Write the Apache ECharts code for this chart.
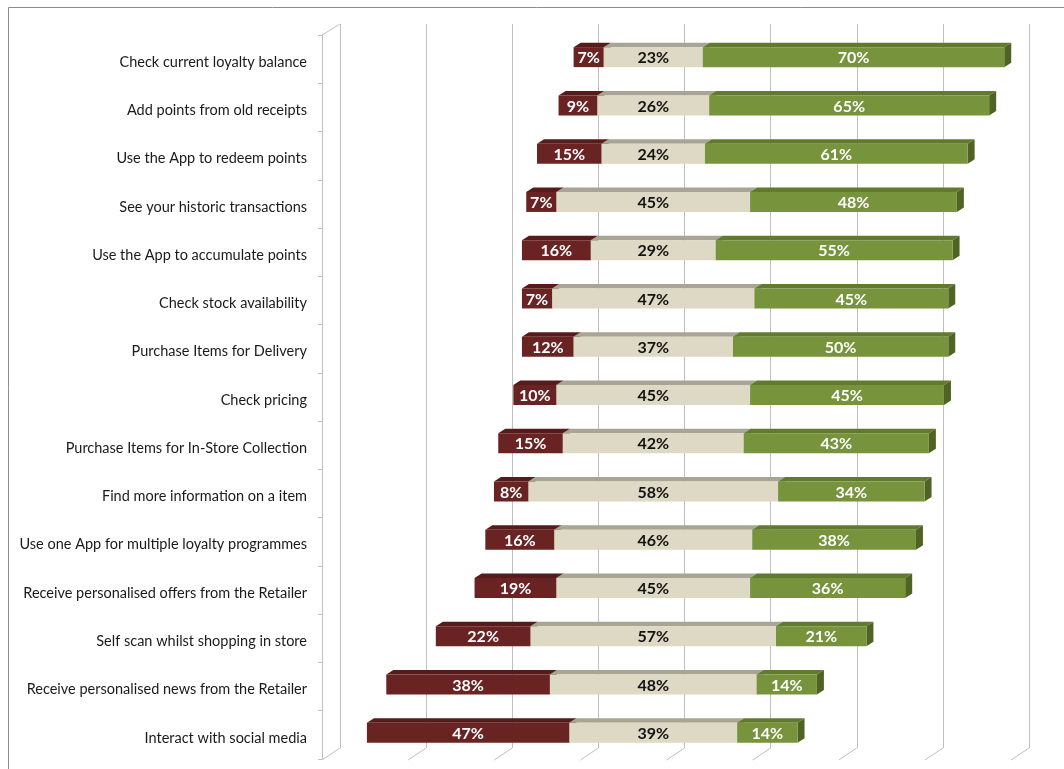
<!DOCTYPE html>
<html>
<head>
<meta charset="utf-8">
<script src="https://cdn.jsdelivr.net/npm/echarts@6/dist/echarts.min.js"></script>
<style>
  html, body { margin: 0; padding: 0; background: #ffffff; }
  #chart { width: 1064px; height: 769px; }
</style>
</head>
<body>
<div id="chart"></div>
<script>
// Survey answers per app feature, in percent
const categories = [
  'Check current loyalty balance',
  'Add points from old receipts',
  'Use the App to redeem points',
  'See your historic transactions',
  'Use the App to accumulate points',
  'Check stock availability',
  'Purchase Items for Delivery',
  'Check pricing',
  'Purchase Items for In-Store Collection',
  'Find more information on a item',
  'Use one App for multiple loyalty programmes',
  'Receive personalised offers from the Retailer',
  'Self scan whilst shopping in store',
  'Receive personalised news from the Retailer',
  'Interact with social media'
];
const negative = [7, 9, 15, 7, 16, 7, 12, 10, 15, 8, 16, 19, 22, 38, 47];
const neutral  = [23, 26, 24, 45, 29, 47, 37, 45, 42, 58, 46, 45, 57, 48, 39];
const positive = [70, 65, 61, 48, 55, 45, 50, 45, 43, 34, 38, 36, 21, 14, 14];
const gridTicks = [0, 20, 40, 60, 80, 100, 120, 140, 160];

// axis value at which every neutral segment is centred
const CENTRE = 76;

// pseudo-3D geometry (pixels)
const FRONT = { dx: -14, dy: 9 };     // bar front relative to the back wall
const DEPTH = { dx: 7, dy: -4.5 };    // bar depth
const FLOOR = { dx: -18, dy: 12 };    // back wall to front edge
const BAR_H = 20;
const LABEL_FONT = 'Lato, "Open Sans", sans-serif';

const starts = {
  neg: categories.map((c, i) => CENTRE - neutral[i] / 2 - negative[i]),
  neu: categories.map((c, i) => CENTRE - neutral[i] / 2),
  pos: categories.map((c, i) => CENTRE + neutral[i] / 2)
};

function segmentSeries(name, startArr, lenArr, colors, textColor) {
  return {
    type: 'custom',
    name: name,
    xAxisIndex: 0,
    yAxisIndex: 0,
    data: categories.map((c, i) => [startArr[i], startArr[i] + lenArr[i], i, lenArr[i]]),
    encode: { x: [0, 1], y: 2 },
    renderItem: function (params, api) {
      const a = api.coord([api.value(0), api.value(2)]);
      const b = api.coord([api.value(1), api.value(2)]);
      const x0 = a[0] + FRONT.dx;
      const x1 = b[0] + FRONT.dx;
      const yc = a[1] + FRONT.dy;
      const t = yc - BAR_H / 2;
      const btm = yc + BAR_H / 2;
      return {
        type: 'group',
        children: [
          {
            type: 'polygon',
            shape: { points: [[x0, t], [x0 + DEPTH.dx, t + DEPTH.dy], [x1 + DEPTH.dx, t + DEPTH.dy], [x1, t]] },
            style: { fill: colors.top }
          },
          {
            type: 'polygon',
            shape: { points: [[x1, t], [x1 + DEPTH.dx, t + DEPTH.dy], [x1 + DEPTH.dx, btm + DEPTH.dy], [x1, btm]] },
            style: { fill: colors.side }
          },
          {
            type: 'rect',
            shape: { x: x0, y: t, width: x1 - x0, height: BAR_H },
            style: { fill: colors.front }
          },
          {
            type: 'text',
            x: (x0 + x1) / 2,
            y: yc + 1,
            style: {
              text: api.value(3) + '%',
              fill: textColor,
              fontFamily: LABEL_FONT,
              fontWeight: 'bold',
              fontSize: 16,
              align: 'center',
              verticalAlign: 'middle'
            }
          }
        ]
      };
    }
  };
}

// slanted floor and wall edges joining the back wall to the front
const wallSeries = {
  type: 'custom',
  xAxisIndex: 0,
  yAxisIndex: 0,
  silent: true,
  data: gridTicks.map(v => [v]),
  encode: { x: 0 },
  renderItem: function (params, api) {
    const cs = params.coordSys;
    const x = api.coord([api.value(0), 0])[0];
    const yb = cs.y + cs.height;
    const children = [{
      type: 'line',
      shape: { x1: x, y1: yb, x2: x + FLOOR.dx, y2: yb + FLOOR.dy },
      style: { stroke: '#bfbfbf', lineWidth: 1 }
    }];
    if (api.value(0) === gridTicks[0]) {
      children.push({
        type: 'line',
        shape: { x1: x, y1: cs.y, x2: x + FLOOR.dx, y2: cs.y + FLOOR.dy - 1 },
        style: { stroke: '#bfbfbf', lineWidth: 1 }
      });
    }
    return { type: 'group', children: children };
  }
};

const chart = echarts.init(document.getElementById('chart'), null, { renderer: 'canvas' });
chart.setOption({
  backgroundColor: '#ffffff',
  animation: false,
  graphic: [{
    type: 'rect',
    shape: { x: 8.5, y: 7.5, width: 1200, height: 900 },
    style: { fill: 'none', stroke: '#8c8c8c', lineWidth: 1 },
    silent: true
  }],
  grid: [
    { left: 340, top: 24, width: 689, height: 724 },   // back wall
    { left: 322, top: 35, width: 689, height: 724 }    // front plane with labels
  ],
  xAxis: [
    {
      gridIndex: 0, type: 'value', min: 0, max: 160, interval: 20,
      axisLine: { show: false }, axisTick: { show: false }, axisLabel: { show: false },
      splitLine: { show: true, lineStyle: { color: '#bfbfbf', width: 1 } }
    },
    {
      gridIndex: 1, type: 'value', min: 0, max: 160, interval: 20, show: false,
      splitLine: { show: false }
    }
  ],
  yAxis: [
    {
      gridIndex: 0, type: 'category', data: categories, inverse: true, show: false
    },
    {
      gridIndex: 1, type: 'category', data: categories, inverse: true,
      axisLine: { show: true, lineStyle: { color: '#bfbfbf', width: 1 } },
      axisTick: { show: true, length: 4, lineStyle: { color: '#bfbfbf' } },
      axisLabel: {
        margin: 15,
        formatter: v => '{c|' + v + '}',
        rich: {
          c: {
            color: '#1a1a1a', fontSize: 14.5,
            fontFamily: 'Lato, "Open Sans", sans-serif',
            padding: [6, 0, 0, 0]
          }
        }
      },
      splitLine: { show: false }
    }
  ],
  series: [
    wallSeries,
    segmentSeries('Negative', starts.neg, negative,
      { front: '#6a2323', top: '#561b1b', side: '#4a1616' }, '#ffffff'),
    segmentSeries('Neutral', starts.neu, neutral,
      { front: '#ddd9c4', top: '#a8a594', side: '#b8b4a0' }, '#111111'),
    segmentSeries('Positive', starts.pos, positive,
      { front: '#77933c', top: '#617a2e', side: '#4f6325' }, '#ffffff')
  ]
});
</script>
</body>
</html>
